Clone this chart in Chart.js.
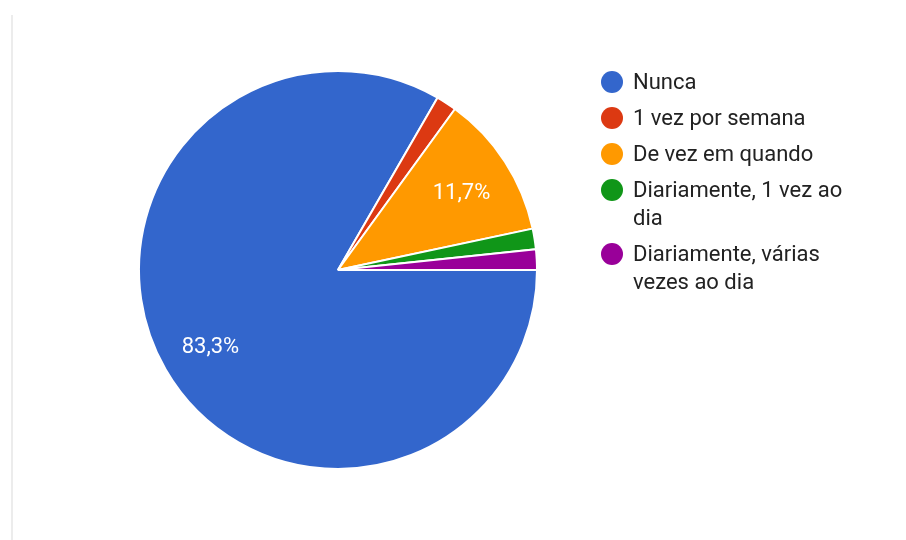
<!DOCTYPE html>
<html>
<head>
<meta charset="utf-8">
<script src="https://cdn.jsdelivr.net/npm/chart.js@4.4.0/dist/chart.umd.min.js"></script>
<style>
    body { margin: 0; background: #fff; font-family: Roboto, sans-serif; }
    #wrap { position: relative; width: 906px; height: 540px; overflow: hidden; }
    #card { position: absolute; left: 11px; top: 15px; width: 900px; height: 560px;
            border-left: 2px solid #ececec; border-radius: 0 0 0 6px; }
    #legend { position: absolute; left: 601px; top: 68px; color: #222; font-size: 22px; }
    .item { display: flex; align-items: flex-start; margin-bottom: 8px; }
    .dot { flex: none; width: 22px; height: 22px; border-radius: 50%; margin: 3px 10px 0 0; }
    .txt { line-height: 28px; width: 230px; }
</style>
</head>
<body>
<div id="wrap">
    <div id="card"></div>
    <canvas id="pieChart" width="906" height="540"></canvas>
    <div id="legend"></div>
</div>
<script>
const labels = ['Nunca', '1 vez por semana', 'De vez em quando', 'Diariamente, 1 vez ao dia', 'Diariamente, várias vezes ao dia'];
const counts = [50, 1, 7, 1, 1];
const colors = ['#3366cc', '#dc3912', '#ff9900', '#109618', '#990099'];

// percentage text drawn inside the larger slices
const sliceLabels = {
    id: 'sliceLabels',
    afterDatasetsDraw(chart) {
        const ctx = chart.ctx;
        const total = counts.reduce((a, b) => a + b, 0);
        chart.getDatasetMeta(0).data.forEach((arc, i) => {
            const pct = counts[i] / total * 100;
            if (pct < 5) return;
            const mid = (arc.startAngle + arc.endAngle) / 2;
            const r = arc.outerRadius * 0.74;
            ctx.save();
            ctx.fillStyle = '#fff';
            ctx.font = '22px Roboto';
            ctx.textAlign = 'center';
            ctx.textBaseline = 'middle';
            ctx.fillText(pct.toFixed(1).replace('.', ',') + '%', arc.x + Math.cos(mid) * r, arc.y + Math.sin(mid) * r + 4);
            ctx.restore();
        });
    }
};

new Chart(document.getElementById('pieChart').getContext('2d'), {
    type: 'pie',
    data: {
        labels: labels,
        datasets: [{
            data: counts,
            backgroundColor: colors,
            borderColor: '#fff',
            borderWidth: 2
        }]
    },
    options: {
        responsive: false,
        animation: false,
        rotation: 90,
        layout: { padding: { left: 138, right: 368, top: 70, bottom: 70 } },
        plugins: {
            legend: { display: false },
            tooltip: { enabled: false }
        }
    },
    plugins: [sliceLabels]
});

// legend with wrapped text
const legend = document.getElementById('legend');
labels.forEach((name, i) => {
    const item = document.createElement('div');
    item.className = 'item';
    item.innerHTML = '<span class="dot" style="background:' + colors[i] + '"></span><span class="txt">' + name + '</span>';
    legend.appendChild(item);
});
</script>
</body>
</html>
